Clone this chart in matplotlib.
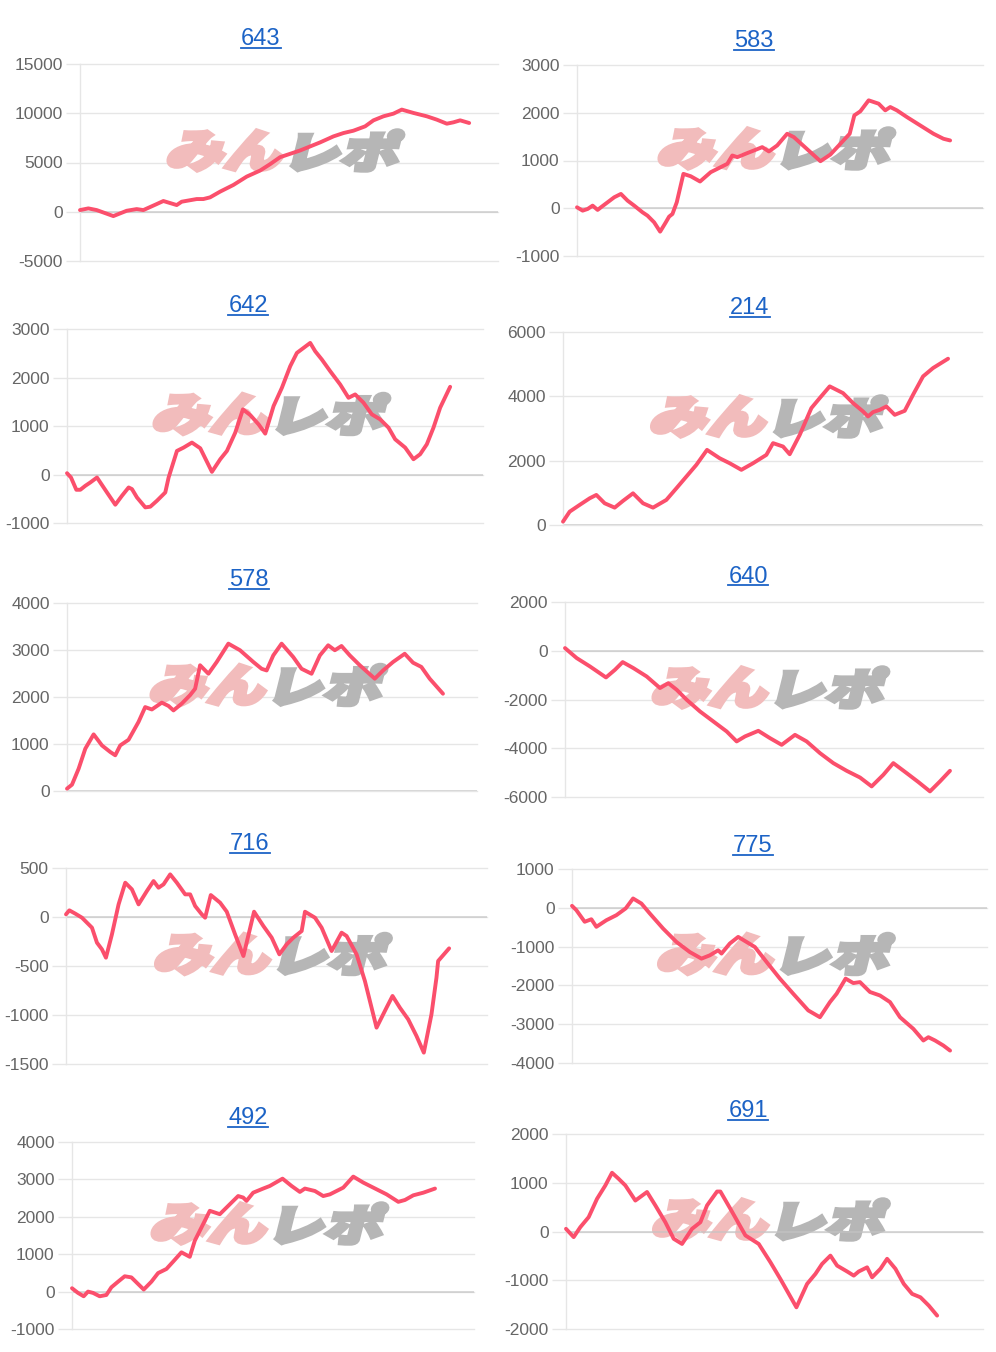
import matplotlib
matplotlib.use("Agg")
import matplotlib.pyplot as plt
from matplotlib.lines import Line2D
from matplotlib.textpath import TextPath
from matplotlib.patches import PathPatch
from matplotlib.font_manager import FontProperties
from matplotlib.transforms import Affine2D, IdentityTransform

plt.rcParams['font.family'] = ['Liberation Sans', 'DejaVu Sans']
plt.rcParams['axes.unicode_minus'] = False

# ---------------- data (x = progress units, y = difference in medals) ----------------
titles = ["643", "583", "642", "214", "578", "640", "716", "775", "492", "691"]

x_643 = [0, 25, 50, 100, 140, 170, 190, 230, 250, 290, 305, 350, 370, 390, 420, 460, 500, 540, 570, 600,
         630, 660, 690, 720, 760, 790, 820, 855, 880, 910, 940, 965, 1000, 1040, 1070, 1100, 1120, 1140, 1167]
y_643 = [170, 340, 170, -440, 100, 270, 170, 780, 1090, 680, 1020, 1290, 1290, 1460, 2040, 2720, 3570, 4180,
         4830, 5540, 5880, 6220, 6630, 7040, 7650, 7990, 8230, 8670, 9280, 9690, 9960, 10370, 10030, 9690,
         9350, 8940, 9080, 9280, 9010]

x_583 = [0, 17, 32, 47, 62, 72, 92, 112, 132, 152, 172, 197, 212, 232, 250, 267, 277, 287, 300, 320,
         342, 370, 402, 422, 452, 467, 482, 512, 532, 557, 577, 602, 632, 652, 732, 762, 792, 820, 834, 852,
         877, 907, 927, 942, 962, 992, 1032, 1072, 1102, 1122]
y_583 = [20, -50, -15, 55, -35, 20, 125, 230, 300, 160, 55, -85, -155, -295, -490, -295, -175, -120, 125, 720,
         670, 560, 755, 825, 930, 1105, 1070, 1155, 1210, 1280, 1190, 1315, 1560, 1490, 985, 1125, 1350, 1560,
         1945, 2030, 2260, 2190, 2050, 2120, 2050, 1910, 1735, 1560, 1455, 1420]

x_642 = [0, 12, 28, 40, 55, 70, 90, 120, 145, 165, 185, 195, 210, 235, 250, 270, 295, 305, 330, 350,
         375, 400, 435, 460, 480, 505, 528, 550, 575, 595, 620, 645, 670, 690, 710, 730, 745, 765, 790, 820,
         845, 865, 890, 915, 940, 965, 985, 1015, 1040, 1060, 1080, 1100, 1120, 1150]
y_642 = [27, -62, -315, -315, -233, -164, -62, -370, -623, -438, -267, -301, -473, -678, -664, -541, -370, -62,
         486, 555, 658, 541, 55, 315, 486, 863, 1343, 1226, 1034, 843, 1411, 1788, 2233, 2507, 2610, 2713,
         2541, 2370, 2130, 1856, 1582, 1651, 1480, 1240, 1137, 966, 726, 555, 315, 418, 623, 966, 1377, 1808]

x_214 = [0, 20, 50, 80, 100, 125, 155, 180, 210, 240, 270, 310, 340, 370, 400, 432, 470, 500, 535, 570,
         610, 630, 660, 680, 710, 745, 770, 800, 840, 870, 900, 915, 930, 950, 970, 995, 1025, 1050, 1080,
         1110, 1155]
y_214 = [105, 415, 625, 830, 935, 675, 540, 750, 985, 675, 540, 780, 1140, 1505, 1870, 2335, 2075, 1920, 1715,
         1920, 2180, 2545, 2440, 2200, 2800, 3635, 3945, 4310, 4100, 3790, 3530, 3375, 3510, 3580, 3685, 3425,
         3550, 4050, 4620, 4880, 5170]

x_578 = [0, 15, 35, 55, 80, 105, 130, 145, 160, 185, 215, 235, 255, 285, 305, 320, 345, 370, 385, 400,
         425, 450, 485, 520, 560, 585, 600, 620, 645, 680, 705, 735, 760, 785, 805, 825, 850, 880, 925, 950,
         980, 1015, 1040, 1065, 1090, 1130]
y_578 = [50, 135, 475, 900, 1205, 970, 830, 760, 970, 1090, 1470, 1785, 1735, 1880, 1810, 1715, 1860, 2040,
         2175, 2675, 2495, 2745, 3135, 2995, 2745, 2600, 2565, 2885, 3135, 2850, 2600, 2495, 2885, 3100, 2995,
         3085, 2885, 2675, 2390, 2565, 2745, 2920, 2730, 2640, 2390, 2070]

x_640 = [0, 35, 75, 123, 150, 173, 205, 245, 285, 310, 335, 365, 405, 445, 485, 515, 540, 580, 615, 650,
         690, 725, 765, 805, 845, 885, 920, 955, 985, 1025, 1060, 1095, 1125, 1155]
y_640 = [110, -300, -645, -1095, -780, -465, -710, -1055, -1530, -1330, -1600, -2010, -2490, -2900, -3310,
         -3720, -3515, -3285, -3585, -3860, -3450, -3720, -4200, -4610, -4925, -5200, -5565, -5090, -4610,
         -5020, -5385, -5770, -5360, -4925]

x_716 = [0, 10, 28, 48, 68, 78, 93, 108, 120, 138, 158, 178, 198, 218, 243, 263, 278, 293, 313, 333,
         358, 373, 388, 408, 418, 435, 463, 483, 508, 533, 565, 593, 618, 641, 663, 683, 708, 718, 748, 768,
         798, 828, 843, 873, 898, 918, 933, 963, 981, 1003, 1028, 1053, 1075, 1098, 1113, 1118, 1151]
y_716 = [27, 68, 34, -7, -75, -109, -262, -330, -415, -177, 129, 350, 282, 129, 265, 367, 299, 333, 435, 350,
         231, 231, 112, 27, -7, 224, 146, 54, -177, -398, 54, -92, -211, -381, -279, -211, -143, 54, -7, -109,
         -347, -160, -194, -381, -653, -925, -1129, -925, -806, -925, -1044, -1214, -1384, -993, -619, -449,
         -320]

x_775 = [0, 13, 38, 58, 73, 103, 133, 161, 183, 208, 233, 273, 313, 353, 388, 413, 438, 448, 473, 498,
         523, 548, 583, 623, 663, 708, 743, 773, 793, 820, 843, 863, 893, 923, 953, 983, 1023, 1053, 1068,
         1088, 1113, 1133]
y_775 = [50, -60, -360, -295, -490, -320, -190, -15, 240, 110, -145, -535, -880, -1140, -1310, -1225, -1095,
         -1180, -920, -750, -880, -1010, -1395, -1825, -2215, -2645, -2820, -2430, -2215, -1825, -1940, -1915,
         -2170, -2260, -2430, -2820, -3120, -3420, -3335, -3420, -3550, -3680]

x_492 = [0, 18, 35, 48, 63, 83, 103, 118, 138, 158, 178, 215, 238, 258, 283, 303, 328, 353, 368, 388,
         413, 443, 473, 498, 513, 523, 543, 573, 593, 631, 658, 683, 698, 728, 753, 773, 813, 843, 873, 903,
         943, 978, 998, 1023, 1053, 1088]
y_492 = [90, -35, -125, 0, -35, -125, -90, 115, 265, 410, 380, 55, 265, 495, 605, 800, 1050, 930, 1360, 1715,
         2160, 2070, 2335, 2555, 2515, 2425, 2645, 2755, 2825, 3020, 2825, 2665, 2755, 2690, 2555, 2600, 2780,
         3075, 2915, 2780, 2600, 2400, 2450, 2575, 2645, 2755]

x_691 = [0, 23, 43, 68, 93, 118, 138, 158, 178, 208, 243, 268, 298, 323, 348, 378, 403, 423, 453, 463,
         493, 538, 578, 613, 643, 691, 723, 748, 768, 793, 813, 843, 863, 878, 903, 918, 943, 963, 988, 1013,
         1038, 1063, 1088, 1113]
y_691 = [55, -115, 90, 295, 670, 945, 1205, 1080, 945, 635, 810, 535, 190, -150, -255, 55, 190, 535, 820, 820,
         465, -80, -255, -630, -975, -1555, -1075, -870, -665, -495, -700, -820, -905, -820, -735, -940, -765,
         -560, -765, -1075, -1280, -1350, -1520, -1725]

y_ranges = [(-5000, 15000, 5000), (-1000, 3000, 1000), (-1000, 3000, 1000), (0, 6000, 2000),
            (0, 4000, 1000), (-6000, 2000, 2000), (-1500, 500, 500), (-4000, 1000, 1000),
            (-1000, 4000, 1000), (-2000, 2000, 1000)]

series = [(x_643, y_643), (x_583, y_583), (x_642, y_642), (x_214, y_214), (x_578, y_578),
          (x_640, y_640), (x_716, y_716), (x_775, y_775), (x_492, y_492), (x_691, y_691)]

# ---------------- layout (pixels, top-left origin) ----------------
W, H = 996, 1352
# left, right, top, bottom, title_x, title_baseline, fraction of x extent used by the line
layout = [
    (80, 498, 64, 261, 261, 45, 0.931),
    (577, 983, 65, 256, 754, 47, 0.919),
    (67, 483, 329, 523, 248, 312, 0.921),
    (563, 982, 332, 525, 750, 314, 0.919),
    (67, 477, 603, 791, 249, 586, 0.917),
    (565, 983, 602, 797, 748, 583, 0.921),
    (66, 487, 868, 1064, 250, 850, 0.910),
    (572, 987, 869, 1063, 753, 852, 0.911),
    (72, 474, 1142, 1329, 248, 1124, 0.903),
    (566, 983, 1134, 1329, 748, 1117, 0.890),
]

LINE_COLOR = '#fb4f6c'
GRID_COLOR = '#e6e6e6'
ZERO_COLOR = '#c4c4c4'
TICK_COLOR = '#666666'
TITLE_COLOR = '#1c63c6'

fig = plt.figure(figsize=(W / 100, H / 100), dpi=100)
fig.patch.set_facecolor('white')

wm_font = FontProperties(family='Noto Sans CJK JP', weight='black')


def add_watermark(ax, cx, cy):
    parts = [('みん', '#f2bcbc', 125), ('レポ', '#b6b6b6', 115)]
    x = cx - 120
    for txt, col, w in parts:
        tp = TextPath((0, 0), txt, prop=wm_font, size=50)
        ext = tp.get_extents()
        sx = (w * 0.9) / ext.width
        sy = 40 / ext.height
        tr = (Affine2D().translate(-ext.x0, -ext.y0).scale(sx, sy)
              .skew_deg(14, 0).translate(x - 3, cy - 20))
        path = tr.transform_path(tp)
        patch = PathPatch(path, facecolor=col, edgecolor=col, linewidth=3.2,
                          joinstyle='miter', transform=IdentityTransform(), zorder=1.0)
        ax.add_artist(patch)
        x += w


title_texts = []
for (xs, ys), (lo, hi, step), lay, title in zip(series, y_ranges, layout, titles):
    left, right, top, bottom, tx, tb, frac = lay
    ax = fig.add_axes([left / W, 1 - bottom / H, (right - left) / W, (bottom - top) / H])
    ax.set_facecolor('none')
    ax.set_ylim(lo, hi)
    ax.set_xlim(0, xs[-1] / frac)
    ax.set_yticks(list(range(lo, hi + 1, step)))
    ax.set_xticks([])
    ax.yaxis.grid(True, color=GRID_COLOR, linewidth=1.0)
    ax.set_axisbelow(True)
    for s in ['top', 'right', 'bottom']:
        ax.spines[s].set_visible(False)
    ax.spines['left'].set_color(GRID_COLOR)
    ax.spines['left'].set_linewidth(1.0)
    ax.tick_params(axis='y', length=10, width=1.0, color=GRID_COLOR, pad=2.5,
                   labelsize=12.5, labelcolor=TICK_COLOR)
    if lo <= 0 <= hi:
        ax.axhline(0, color=ZERO_COLOR, linewidth=1.1, zorder=1.2, alpha=0.8)
    for gl in ax.get_ygridlines():
        gl.set_clip_on(False)

    ax.plot(xs, ys, color=LINE_COLOR, linewidth=2.8, solid_joinstyle='round',
            solid_capstyle='round', zorder=3, clip_on=False)

    cx = (left + right) / 2
    cy = H - ((top + bottom) / 2 - 12)
    add_watermark(ax, cx, cy)

    t = fig.text(tx / W, 1 - tb / H, title, ha='center', va='baseline',
                 fontsize=17, color=TITLE_COLOR)
    title_texts.append(t)

fig.canvas.draw()
renderer = fig.canvas.get_renderer()
for t in title_texts:
    bb = t.get_window_extent(renderer)
    yline = bb.y0 + 2.5
    fig.add_artist(Line2D([bb.x0, bb.x1], [yline, yline], color=TITLE_COLOR,
                          linewidth=1.3, transform=IdentityTransform()))

fig.savefig('out.png', dpi=100, facecolor='white')
